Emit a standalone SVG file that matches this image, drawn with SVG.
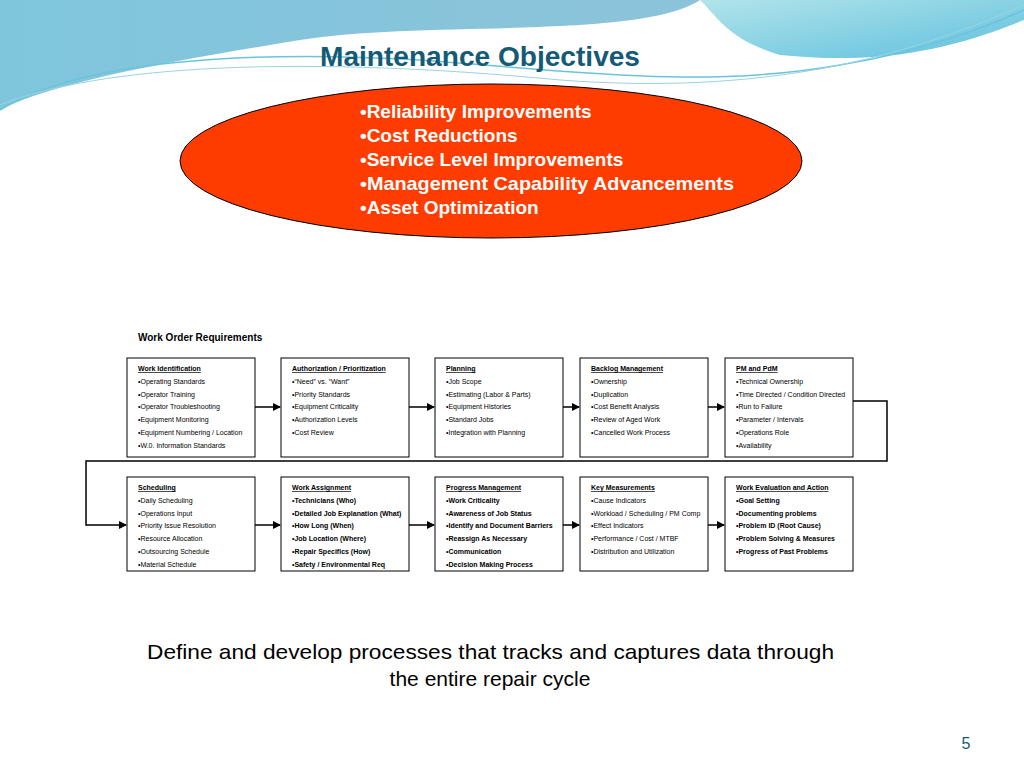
<svg xmlns="http://www.w3.org/2000/svg" width="1024" height="768" viewBox="0 0 1024 768">
<defs>
<linearGradient id="g1" x1="0" y1="0" x2="1" y2="0"><stop offset="0" stop-color="#7fc6dc"/><stop offset="1" stop-color="#8cc3da"/></linearGradient>
<linearGradient id="g2" x1="0" y1="0" x2="1" y2="1"><stop offset="0" stop-color="#b2e4ea"/><stop offset="1" stop-color="#5fc0de"/></linearGradient>
<marker id="ah" markerWidth="8" markerHeight="8" refX="7" refY="4" orient="auto" markerUnits="userSpaceOnUse"><path d="M0,0 L8,4 L0,8 z" fill="#000"/></marker>
<style>
.box{fill:#fff;stroke:#000;stroke-width:1}
.t{font-family:"Liberation Sans",Arial,sans-serif;font-size:7px;fill:#000}
.h{text-decoration:underline;font-weight:bold}
.b{font-weight:bold}
.c{stroke:#000;stroke-width:1.5;fill:none}
.o{font-family:"Liberation Sans",Arial,sans-serif;font-size:19px;font-weight:bold;fill:#fff}
</style>
</defs>
<rect width="1024" height="768" fill="#fff"/>
<path d="M0,0 H700 C640,40 420,20 300,40 C180,60 60,80 0,110 Z" fill="url(#g1)"/>
<path d="M700,0 H1024 V20 C950,50 880,65 780,55 C730,40 720,20 700,0 Z" fill="url(#g2)"/>
<path d="M0,110 C80,60 250,50 420,60 C560,70 700,90 840,65 C930,50 990,25 1024,10" stroke="#6cc4dc" stroke-width="1.5" fill="none"/>
<path d="M0,105 C100,65 300,55 560,80 C760,95 900,60 1024,5" stroke="#9ad3e2" stroke-width="1" fill="none"/>
<text x="320" y="66" textLength="320" lengthAdjust="spacingAndGlyphs" font-family="Liberation Sans,Arial,sans-serif" font-size="27" font-weight="bold" fill="#155a75">Maintenance Objectives</text>
<g id="objectives">
<ellipse cx="491" cy="161" rx="311" ry="77" fill="#ff3c00" stroke="#000" stroke-width="1"/>
<text class="o" x="360" y="118">•Reliability Improvements</text>
<text class="o" x="360" y="142">•Cost Reductions</text>
<text class="o" x="360" y="166">•Service Level Improvements</text>
<text class="o" x="360" y="190" textLength="374" lengthAdjust="spacingAndGlyphs">•Management Capability Advancements</text>
<text class="o" x="360" y="214">•Asset Optimization</text>
</g>
<text x="138" y="341" font-family="Liberation Sans,Arial,sans-serif" font-size="10" font-weight="bold">Work Order Requirements</text>
<g id="connectors">
<line class="c" x1="255" y1="407" x2="280" y2="407" marker-end="url(#ah)"/>
<line class="c" x1="409" y1="407" x2="434" y2="407" marker-end="url(#ah)"/>
<line class="c" x1="563" y1="407" x2="579" y2="407" marker-end="url(#ah)"/>
<line class="c" x1="708" y1="407" x2="724" y2="407" marker-end="url(#ah)"/>
<polyline class="c" points="853,401 887,401 887,461 86,461 86,525 126,525" marker-end="url(#ah)"/>
<line class="c" x1="255" y1="525" x2="280" y2="525" marker-end="url(#ah)"/>
<line class="c" x1="409" y1="525" x2="434" y2="525" marker-end="url(#ah)"/>
<line class="c" x1="563" y1="525" x2="579" y2="525" marker-end="url(#ah)"/>
<line class="c" x1="708" y1="525" x2="724" y2="525" marker-end="url(#ah)"/>
</g>
<g id="n1"><rect class="box" x="127" y="358" width="128" height="99"/>
<text class="t" x="138" y="371"><tspan class="h">Work Identification</tspan><tspan x="138" dy="12.8">•Operating Standards</tspan><tspan x="138" dy="12.8">•Operator Training</tspan><tspan x="138" dy="12.8">•Operator Troubleshooting</tspan><tspan x="138" dy="12.8">•Equipment Monitoring</tspan><tspan x="138" dy="12.8">•Equipment Numbering / Location</tspan><tspan x="138" dy="12.8">•W.0. Information Standards</tspan></text></g>
<g id="n2"><rect class="box" x="281" y="358" width="128" height="99"/>
<text class="t" x="292" y="371"><tspan class="h">Authorization / Prioritization</tspan><tspan x="292" dy="12.8">•“Need” vs. “Want”</tspan><tspan x="292" dy="12.8">•Priority Standards</tspan><tspan x="292" dy="12.8">•Equipment Criticality</tspan><tspan x="292" dy="12.8">•Authorization Levels</tspan><tspan x="292" dy="12.8">•Cost Review</tspan></text></g>
<g id="n3"><rect class="box" x="435" y="358" width="128" height="99"/>
<text class="t" x="446" y="371"><tspan class="h">Planning</tspan><tspan x="446" dy="12.8">•Job Scope</tspan><tspan x="446" dy="12.8">•Estimating (Labor &amp; Parts)</tspan><tspan x="446" dy="12.8">•Equipment Histories</tspan><tspan x="446" dy="12.8">•Standard Jobs</tspan><tspan x="446" dy="12.8">•Integration with Planning</tspan></text></g>
<g id="n4"><rect class="box" x="580" y="358" width="128" height="99"/>
<text class="t" x="591" y="371"><tspan class="h">Backlog Management</tspan><tspan x="591" dy="12.8">•Ownership</tspan><tspan x="591" dy="12.8">•Duplication</tspan><tspan x="591" dy="12.8">•Cost Benefit Analysis</tspan><tspan x="591" dy="12.8">•Review of Aged Work</tspan><tspan x="591" dy="12.8">•Cancelled Work Process</tspan></text></g>
<g id="n5"><rect class="box" x="725" y="358" width="128" height="99"/>
<text class="t" x="736" y="371"><tspan class="h">PM and PdM</tspan><tspan x="736" dy="12.8">•Technical Ownership</tspan><tspan x="736" dy="12.8">•Time Directed / Condition Directed</tspan><tspan x="736" dy="12.8">•Run to Failure</tspan><tspan x="736" dy="12.8">•Parameter / Intervals</tspan><tspan x="736" dy="12.8">•Operations Role</tspan><tspan x="736" dy="12.8">•Availability</tspan></text></g>
<g id="n6"><rect class="box" x="127" y="477" width="128" height="94"/>
<text class="t" x="138" y="490"><tspan class="h">Scheduling</tspan><tspan x="138" dy="12.8">•Daily Scheduling</tspan><tspan x="138" dy="12.8">•Operations Input</tspan><tspan x="138" dy="12.8">•Priority Issue Resolution</tspan><tspan x="138" dy="12.8">•Resource Allocation</tspan><tspan x="138" dy="12.8">•Outsourcing Schedule</tspan><tspan x="138" dy="12.8">•Material Schedule</tspan></text></g>
<g id="n7"><rect class="box" x="281" y="477" width="128" height="94"/>
<text class="t b" x="292" y="490"><tspan class="h">Work Assignment</tspan><tspan x="292" dy="12.8">•Technicians (Who)</tspan><tspan x="292" dy="12.8">•Detailed Job Explanation (What)</tspan><tspan x="292" dy="12.8">•How Long (When)</tspan><tspan x="292" dy="12.8">•Job Location (Where)</tspan><tspan x="292" dy="12.8">•Repair Specifics (How)</tspan><tspan x="292" dy="12.8">•Safety / Environmental Req</tspan></text></g>
<g id="n8"><rect class="box" x="435" y="477" width="128" height="94"/>
<text class="t b" x="446" y="490"><tspan class="h">Progress Management</tspan><tspan x="446" dy="12.8">•Work Criticality</tspan><tspan x="446" dy="12.8">•Awareness of Job Status</tspan><tspan x="446" dy="12.8">•Identify and Document Barriers</tspan><tspan x="446" dy="12.8">•Reassign As Necessary</tspan><tspan x="446" dy="12.8">•Communication</tspan><tspan x="446" dy="12.8">•Decision Making Process</tspan></text></g>
<g id="n9"><rect class="box" x="580" y="477" width="128" height="94"/>
<text class="t" x="591" y="490"><tspan class="h">Key Measurements</tspan><tspan x="591" dy="12.8">•Cause Indicators</tspan><tspan x="591" dy="12.8">•Workload / Scheduling / PM Comp</tspan><tspan x="591" dy="12.8">•Effect Indicators</tspan><tspan x="591" dy="12.8">•Performance / Cost / MTBF</tspan><tspan x="591" dy="12.8">•Distribution and Utilization</tspan></text></g>
<g id="n10"><rect class="box" x="725" y="477" width="128" height="94"/>
<text class="t b" x="736" y="490"><tspan class="h">Work Evaluation and Action</tspan><tspan x="736" dy="12.8">•Goal Setting</tspan><tspan x="736" dy="12.8">•Documenting problems</tspan><tspan x="736" dy="12.8">•Problem ID (Root Cause)</tspan><tspan x="736" dy="12.8">•Problem Solving &amp; Measures</tspan><tspan x="736" dy="12.8">•Progress of Past Problems</tspan></text></g>
<text x="147" y="659" textLength="687" lengthAdjust="spacingAndGlyphs" font-family="Liberation Sans,Arial,sans-serif" font-size="21">Define and develop processes that tracks and captures data through</text>
<text x="490" y="686" text-anchor="middle" font-family="Liberation Sans,Arial,sans-serif" font-size="21">the entire repair cycle</text>
<text x="966" y="749" text-anchor="middle" font-family="Liberation Sans,Arial,sans-serif" font-size="16" fill="#155a75">5</text>
</svg>
